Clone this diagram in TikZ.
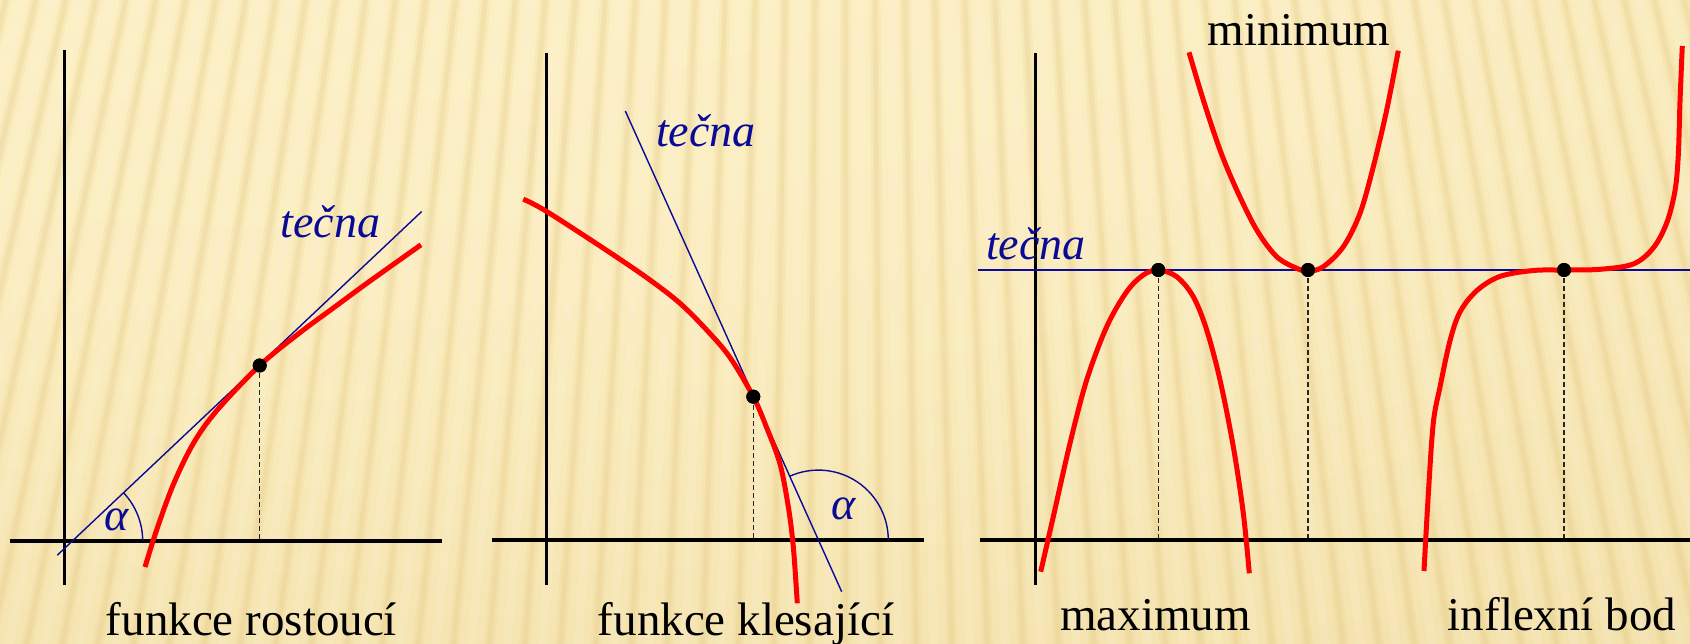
\documentclass[tikz,border=0pt]{standalone}
\usepackage{fontspec}
\setmainfont{Liberation Serif}
\definecolor{bgA}{HTML}{FDF2C8}
\definecolor{bgB}{HTML}{FBEDC0}
\definecolor{bgC}{HTML}{F0DDA4}
\definecolor{bgD}{HTML}{E6CA82}
\definecolor{stripeD}{HTML}{DDBB6A}
\definecolor{tblue}{RGB}{10,10,150}
\definecolor{cred}{RGB}{255,0,0}
\pgfdeclareradialshading{bgshade}{\pgfpoint{-20bp}{50bp}}{color(0bp)=(bgA); color(35bp)=(bgB); color(75bp)=(bgC); color(110bp)=(bgD); color(140bp)=(bgD)}
\begin{document}
\begin{tikzpicture}[x=1pt,y=-1pt,
  axisline/.style={line width=3.1pt, black},
  curve/.style={line width=5pt, cred, line join=round},
  tang/.style={line width=1.4pt, tblue},
  guide/.style={line width=1.4pt, dash pattern=on 5pt off 3pt, black!85},
  angarc/.style={line width=1.4pt, tblue},
  lbl/.style={font=\fontsize{47}{56}\selectfont, inner sep=0pt, anchor=base, text=black},
  tlbl/.style={font=\fontsize{46}{55}\selectfont\itshape, inner sep=0pt, anchor=base, text=tblue},
  dot/.style={circle, fill=black, inner sep=0pt, minimum size=14pt},
]
\useasboundingbox (0,0) rectangle (1690,644);
% background
\fill[shading=bgshade] (0,0) rectangle (1690,644);
\begin{scope}
  \clip (0,0) rectangle (1690,644);
  \foreach \k in {-31,...,31}{
    \draw[line width=11pt, stripeD, opacity=0.10] ({845+29.8*\k},-20) -- ({845+35.8*\k},670);
    \draw[line width=5pt, stripeD, opacity=0.16] ({845+29.8*\k},-20) -- ({845+35.8*\k},670);
    \draw[line width=9pt, white, opacity=0.10] ({845+29.8*(\k+0.5)},-20) -- ({845+35.8*(\k+0.5)},670);
  }
\end{scope}

% ---------- panel 1 ----------
\coordinate (a1t) at (64.3,50);
\coordinate (a1b) at (64.3,585);
\coordinate (x1l) at (10,541);
\coordinate (x1r) at (442,541);
\draw[axisline] (a1t) -- (a1b);
\draw[axisline] (x1l) -- (x1r);
\node[dot] (p1) at (259.7,365.5) {};
\coordinate (f1) at (259.7,539);
\draw[guide] (p1.center) -- (f1);
\coordinate (t1s) at (57.3,555.2);
\coordinate (t1e) at (421.7,211.5);
\draw[tang] (t1s) -- (t1e);
\draw[angarc] (142.7,541) arc[start angle=0, end angle=-43.33, radius=70.3];
\draw[curve] plot[smooth, tension=0.55] coordinates {(145,567) (156.7,529.8) (173.3,484.6) (193.3,443.5) (216.7,410.7) (259.7,365.5) (300,332.6) (333.3,308) (366.7,283.4) (421,244.8)};
\node[dot] at (p1) {};
\node[tlbl] (tec1) at (330.5,238) {tečna};
\node[tlbl] (al1) at (117,530) {α};
\node[lbl] (lab1) at (251.5,635) {funkce rostoucí};

% ---------- panel 2 ----------
\coordinate (a2t) at (546.7,52.6);
\coordinate (a2b) at (546.7,585);
\coordinate (x2l) at (492,540);
\coordinate (x2r) at (924,540);
\draw[axisline] (a2t) -- (a2b);
\draw[axisline] (x2l) -- (x2r);
\node[dot] (p2) at (753.3,396.7) {};
\coordinate (f2) at (753.3,538);
\draw[guide] (p2.center) -- (f2);
\coordinate (t2s) at (625.3,111);
\coordinate (t2e) at (841.7,591.7);
\draw[tang] (t2s) -- (t2e);
\draw[angarc] (888.3,540) arc[start angle=0, end angle=-114.24, radius=69.9];
\draw[curve] plot[smooth, tension=0.55] coordinates {(523.3,199.2) (546.7,211.5) (610,252.6) (650,280) (680,303.3) (706.7,330) (730,357.5) (753.3,396.7) (767,428.5) (780,464) (788.3,506.7) (793.3,546.7) (797.3,603.3)};
\node[dot] at (p2) {};
\node[tlbl] (tec2) at (705.8,146.5) {tečna};
\node[tlbl] (al2) at (844,519.5) {α};
\node[lbl] (lab2) at (746,635) {funkce klesající};

% ---------- panel 3 ----------
\coordinate (a3t) at (1035.4,52.6);
\coordinate (a3b) at (1035.4,585);
\coordinate (x3l) at (979.5,540);
\coordinate (x3r) at (1690,540);
\draw[axisline] (a3t) -- (a3b);
\draw[axisline] (x3l) -- (x3r);
\node[dot] (pmax) at (1158.3,270) {};
\node[dot] (pmin) at (1308,270) {};
\node[dot] (pinf) at (1564,270) {};
\coordinate (fmax) at (1158.3,538);
\coordinate (fmin) at (1308,538);
\coordinate (finf) at (1564,538);
\draw[guide] (pmax.center) -- (fmax);
\draw[guide] (pmin.center) -- (fmin);
\draw[guide] (pinf.center) -- (finf);
\coordinate (t3s) at (977.7,270);
\coordinate (t3e) at (1690,270);
\draw[tang, line width=2pt] (t3s) -- (t3e);
\draw[curve] plot[smooth, tension=0.55] coordinates {(1040.7,571.7) (1053.3,516.7) (1070,443.3) (1086.7,380) (1106.7,326.7) (1126.7,291.7) (1143.3,275) (1158.3,270) (1176.7,276.7) (1193.3,296.7) (1206.7,330) (1220,380) (1233.3,446.7) (1243.3,513.3) (1249.3,573.3)};
\draw[curve] plot[smooth, tension=0.55] coordinates {(1189,52.3) (1203.3,100) (1220,150) (1236.7,190) (1256.7,230) (1276.7,256.7) (1296.7,268.3) (1308.3,271.2) (1323.3,266.7) (1343.3,246.7) (1360,213.3) (1373.3,166.7) (1386.7,110) (1398.3,50.7)};
\draw[curve] plot[smooth, tension=0.55] coordinates {(1424,571) (1428.3,494.3) (1433.3,422.9) (1440,387) (1450,340.7) (1460,312) (1476.7,290.7) (1500,276.4) (1533.3,270.5) (1564,270) (1600,269.3) (1633.3,264) (1653.3,247.9) (1666.7,222.9) (1675,190.7) (1678.3,155) (1680,101.4) (1682.3,46)};
\node[dot] at (pmax) {};
\node[dot] at (pmin) {};
\node[dot] at (pinf) {};
\node[tlbl] (tec3) at (1036,260) {tečna};
\node[lbl] (labmin) at (1299,45.5) {minimum};
\node[lbl] (labmax) at (1155.5,630) {maximum};
\node[lbl] (labinf) at (1562,630) {inflexní bod};
\end{tikzpicture}
\end{document}
